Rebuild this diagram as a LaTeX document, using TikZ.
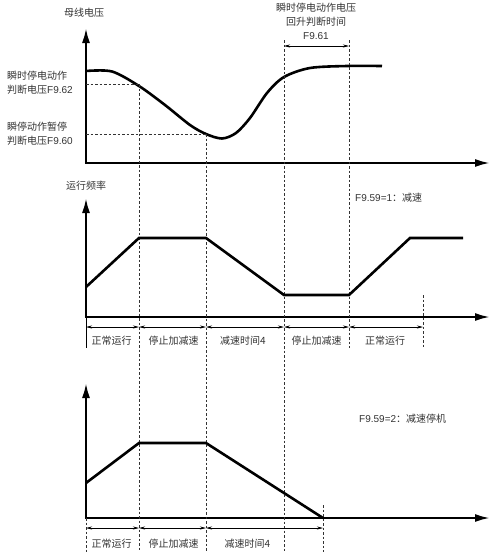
\documentclass[tikz,border=0pt]{standalone}
\usepackage{fontspec}
\setmainfont{Liberation Sans}
\newfontfamily\cjk{Noto Sans CJK SC}
\usetikzlibrary{arrows.meta}
\tikzset{
  axis/.style={line width=2.2pt, -{Latex[length=15pt,width=8pt]}},
  curve/.style={line width=2.6pt, line join=miter},
  guide/.style={line width=0.6pt, black!80, dash pattern=on 2.5pt off 2pt},
  span/.style={line width=0.6pt, {Stealth[length=6pt,width=3pt]}-{Stealth[length=6pt,width=3pt]}},
  lbl/.style={font=\fontsize{10}{14}\selectfont, text=black!80, inner sep=1pt},
}

\begin{document}
\begin{tikzpicture}[x=1pt, y=-1pt]
\useasboundingbox (0,0) rectangle (493,552);
% axes
\draw[axis] (86,163) -- (86,28);  \draw[axis] (84.9,163) -- (490,163);
\draw[axis] (86,317) -- (86,198); \draw[axis] (84.9,317) -- (490,317);
\draw[axis] (86,518) -- (86,383); \draw[axis] (84.9,518) -- (490,518);
\node[lbl] (vbus) at (84,13) {\cjk 母线电压};
\node[lbl] (freq) at (86,186) {\cjk 运行频率};

% bus voltage
\draw[curve] plot[smooth, tension=0.5] coordinates {(86,71) (112,71.5) (139,86) (165,105) (190,125) (206,134) (222,138.5) (236,133) (250,118) (267,93) (284,77) (310,68) (347,66) (382,66)};
\node[lbl, anchor=west, align=left] (u62) at (6,82.5) {\cjk 瞬时停电动作\\{\cjk 判断电压}F9.62};
\node[lbl, anchor=west, align=left] (u60) at (6,134) {\cjk 瞬停动作暂停\\{\cjk 判断电压}F9.60};
\node[lbl, align=center] (t61) at (316,21) {\cjk 瞬时停电动作电压\\\cjk 回升判断时间\\F9.61};

% guides
\draw[guide] (86,84) -- (139,84);
\draw[guide] (86,134) -- (206,134);
\draw[guide] (139,84) -- (139,552);
\draw[guide] (206,134) -- (206,552);
\draw[guide] (284,40) -- (284,552);
\draw[guide] (349,40) -- (349,348);
\draw[guide] (423,295) -- (423,348);
\draw[guide] (323,505) -- (323,552);
\draw[line width=0.6pt] (86,317) -- (86,348);
\draw[guide] (86,518) -- (86,552);
\draw[span] (284,46) -- (349,46);

% F9.59=1
\draw[curve] (86,287) -- (139,238) -- (206,238) -- (284,295) -- (349,295) -- (410,238) -- (463,238);
\node[lbl, anchor=west] (m1) at (354,198) {F9.59=1{\cjk ：减速}};
\foreach \xa/\xb in {86/139,139/206,206/284,284/349,349/423}
  \draw[span] (\xa,327) -- (\xb,327);
\node[lbl] (p1) at (111.5,341) {\cjk 正常运行};
\node[lbl] (p2) at (173.5,341) {\cjk 停止加减速};
\node[lbl] (p3) at (243,341) {\cjk 减速时间4};
\node[lbl] (p4) at (316.5,341) {\cjk 停止加减速};
\node[lbl] (p5) at (385,341) {\cjk 正常运行};

% F9.59=2
\draw[curve] (86,483) -- (139,443) -- (206,443) -- (323,518);
\node[lbl, anchor=west] (m2) at (358,419) {F9.59=2{\cjk ：减速停机}};
\foreach \xa/\xb in {86/139,139/206,206/323}
  \draw[span] (\xa,528) -- (\xb,528);
\node[lbl] (q1) at (111.5,544) {\cjk 正常运行};
\node[lbl] (q2) at (173.5,544) {\cjk 停止加减速};
\node[lbl] (q3) at (247.5,544) {\cjk 减速时间4};
\end{tikzpicture}
\end{document}
